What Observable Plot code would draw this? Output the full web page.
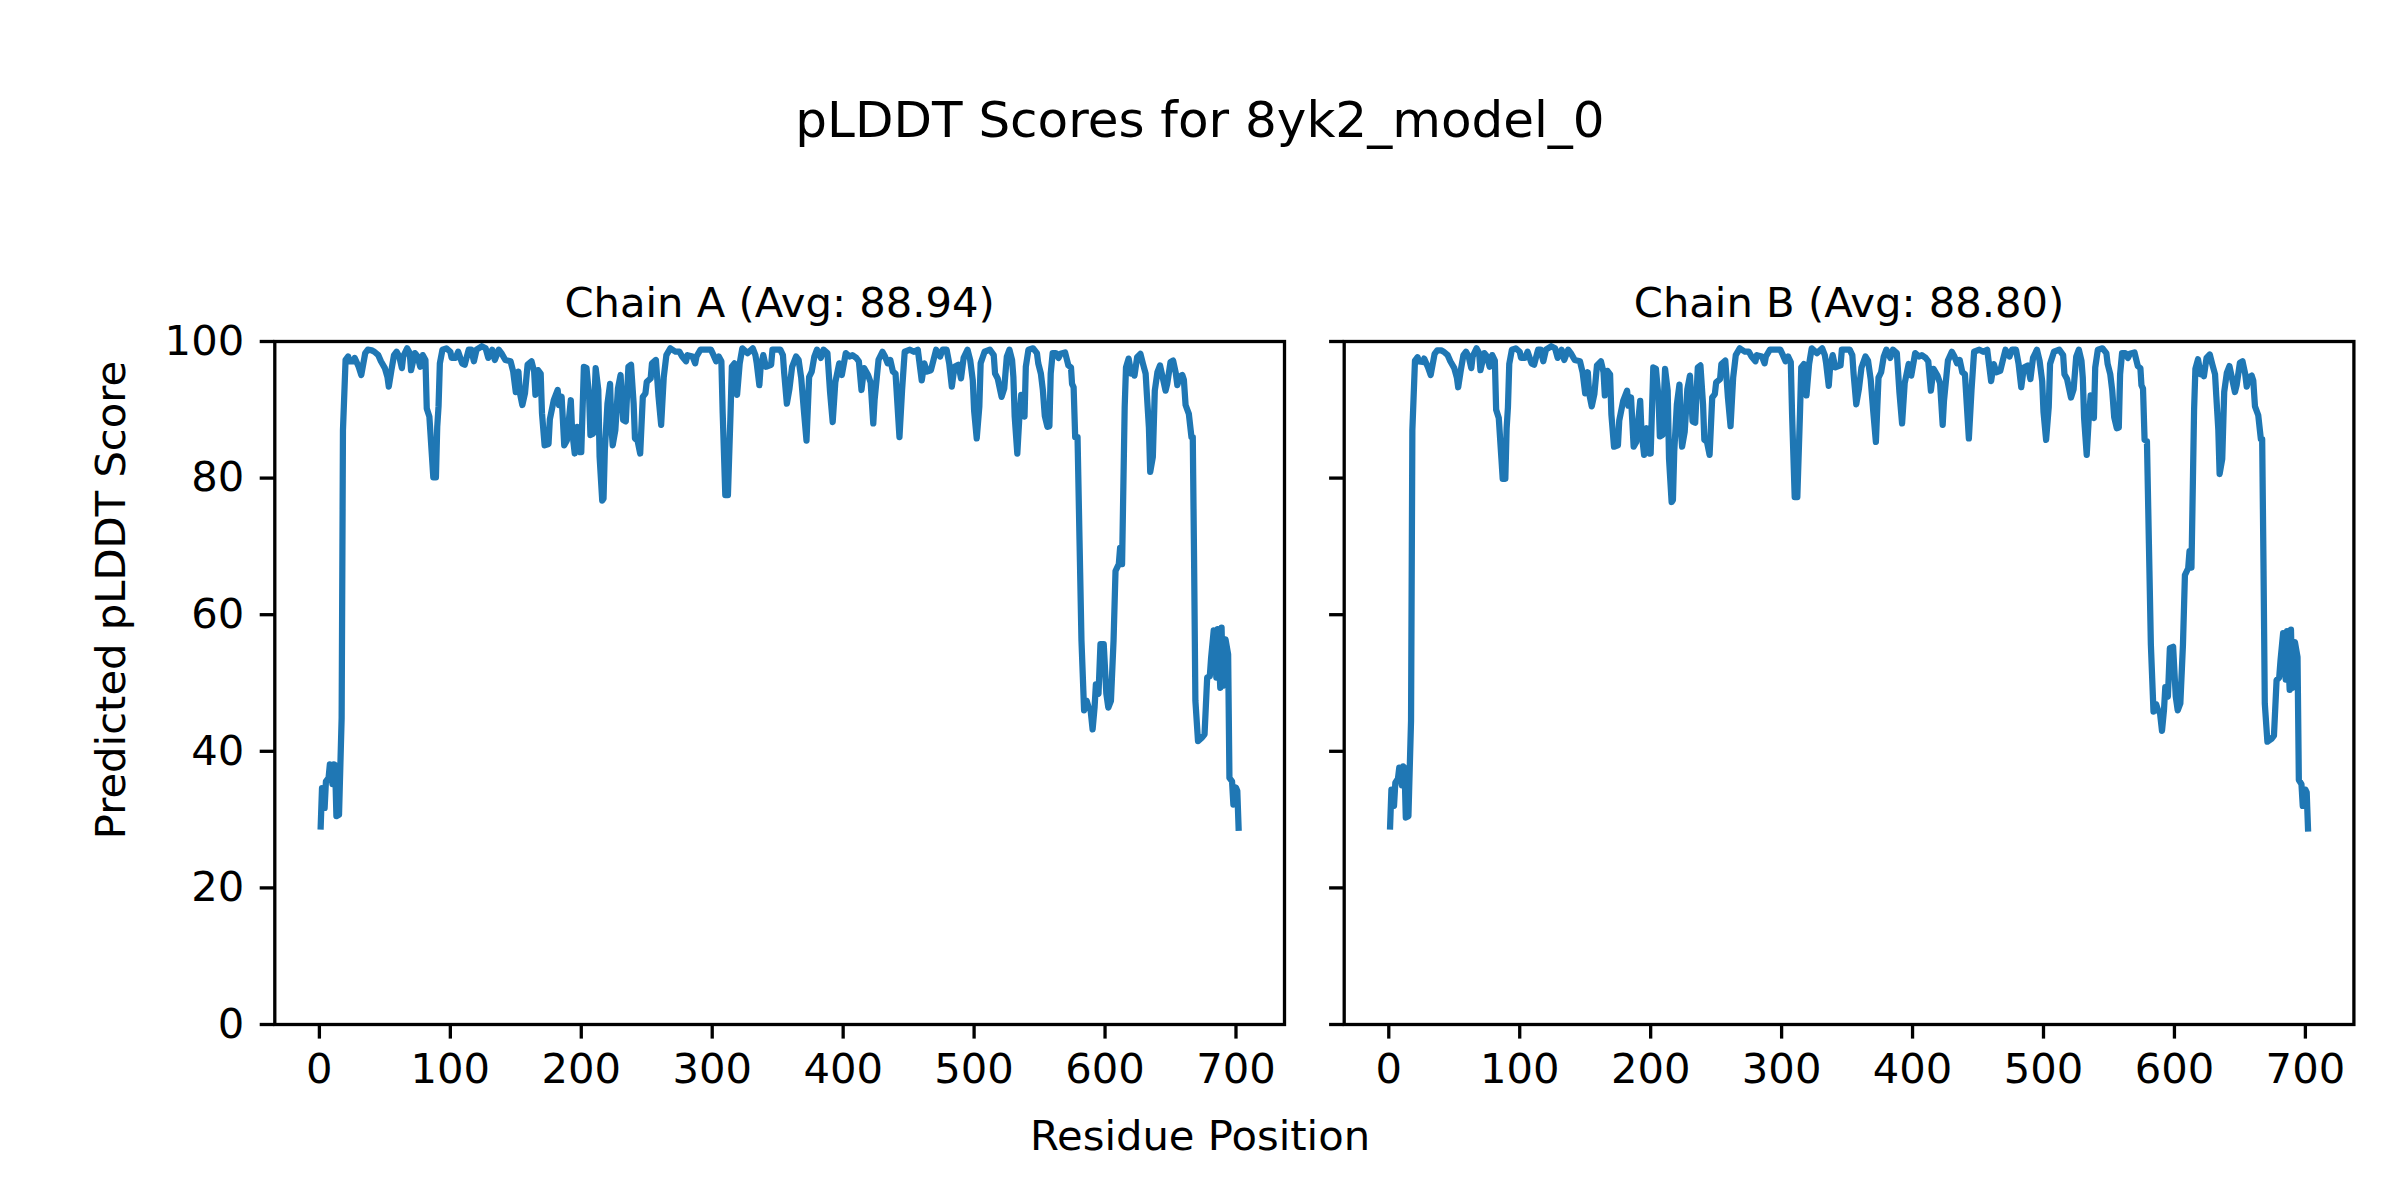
<!DOCTYPE html>
<html><head><meta charset="utf-8">
<script src="https://cdn.jsdelivr.net/npm/d3@7"></script>
<script src="https://cdn.jsdelivr.net/npm/@observablehq/plot@0.6"></script>
<style>
html,body{margin:0;padding:0;background:#fff;}
#fig{position:relative;width:2400px;height:1200px;background:#fff;overflow:hidden;font-family:"DejaVu Sans";}
#fig > svg{position:absolute;top:0;}
</style></head><body><div id="fig"></div>
<script>
const figureTitle = "pLDDT Scores for 8yk2_model_0";
const chainTitles = ["Chain A (Avg: 88.94)", "Chain B (Avg: 88.80)"];
const xLabel = "Residue Position";
const yLabel = "Predicted pLDDT Score";
const xTicks = [0, 100, 200, 300, 400, 500, 600, 700];
const yTicks = [0, 20, 40, 60, 80, 100];

// [residue, pLDDT]
const chainA = [
[1,29],[2,34.6],[3,34.5],[4,31.7],[5,35.6],[7,36.1],[8,38.1],[10,35.2],[11,38.1],[12,38],
[13,30.5],[15,30.7],[17,44.9],[18,87],[20,97.3],[22,97.8],[23,97.1],[26,97.1],[27,97.6],[30,96.3],
[32,95.1],[35,98.3],[37,98.8],[40,98.7],[42,98.5],[45,98],[47,97.1],[50,96.1],[52,94.8],[53,93.4],
[55,95.8],[57,98],[59,98.5],[61,97.8],[63,96.1],[64,97.8],[67,99],[69,98.3],[70,95.8],[73,98.3],
[75,97.8],[77,96.3],[79,98],[81,97.3],[82,90.2],[84,89],[86,83.1],[87,80.1],[89,80.1],[90,87.5],
[91,90.5],[92,96.8],[94,98.8],[97,99],[100,98.5],[101,97.6],[104,97.6],[106,98.5],[109,96.8],[111,96.6],
[114,98.8],[116,98.8],[118,97.1],[120,98.8],[124,99.3],[127,99],[129,97.6],[132,98.8],[134,97.3],[137,98.8],
[139,98.3],[142,97.3],[146,97.1],[148,95.6],[150,92.6],[152,95.6],[153,92.6],[155,90.7],[157,92.4],[159,96.6],
[162,97.1],[164,95.6],[165,92.2],[167,95.8],[169,95.3],[170,89.5],[172,84.8],[175,85],[176,88.6],[179,91.4],
[182,92.9],[183,90.7],[185,91.9],[187,84.8],[189,85.5],[192,91.4],[193,87],[195,83.6],[197,87.5],[199,83.8],
[200,83.8],[202,96.3],[204,96.1],[206,91.9],[207,86.3],[209,86.5],[211,96.1],[213,92.9],[214,83.1],[216,76.7],
[217,77],[218,84.1],[220,90.9],[222,93.8],[223,87.5],[224,84.8],[226,87],[228,93.1],[230,95.1],[232,88.5],
[234,88.3],[236,96.3],[238,96.6],[240,90.9],[241,85.8],[243,85.5],[245,83.6],[247,91.9],[249,92.4],[250,94.1],
[253,94.6],[254,96.8],[257,97.3],[259,91.9],[261,87.8],[263,94.8],[265,98],[268,99],[272,98.5],[275,98.5],
[277,97.8],[280,97.1],[281,98],[285,97.8],[287,96.8],[288,97.8],[291,98.8],[295,98.8],[299,98.8],[301,98],
[303,97.1],[305,97.8],[307,97.1],[308,89.5],[310,77.5],[312,77.5],[314,89.5],[315,96.3],[317,96.8],[319,92.2],
[321,96.8],[323,99],[327,98.3],[331,99],[333,98],[334,96.8],[336,93.6],[337,96.3],[339,98],[341,96.3],
[345,96.6],[346,98.8],[350,98.8],[352,98.8],[354,98],[355,95.3],[357,90.9],[359,93.1],[361,96.3],[364,97.8],
[366,97.3],[368,94.6],[370,89.9],[372,85.5],[374,94.8],[376,95.6],[378,97.8],[380,98.8],[383,97.6],[385,98.8],
[388,98.3],[390,92.6],[392,88.2],[394,94],[397,96.8],[399,95.1],[402,98.3],[405,97.8],[407,98],[410,97.6],
[412,97.1],[414,92.9],[416,96.1],[419,95.1],[421,94],[423,88],[424,91.4],[427,97.3],[430,98.5],[432,97.8],
[434,96.8],[436,97.3],[438,95.6],[440,95.3],[443,86],[445,92.9],[447,98.5],[451,98.8],[454,98.5],[457,98.8],
[460,94.3],[462,96.8],[464,95.6],[467,95.8],[469,97.3],[471,98.8],[474,97.8],[476,98.8],[479,98.8],[481,96.8],
[483,93.4],[485,96.3],[488,96.6],[490,94.6],[492,97.6],[495,98.8],[497,97.3],[499,94.3],[500,89.9],[502,85.8],
[504,90.5],[505,96.8],[508,98.5],[512,98.8],[515,98],[516,95.3],[518,94.6],[521,91.9],[523,93.1],[525,97.8],
[527,98.8],[529,97.3],[530,94.8],[531,89],[533,83.6],[534.5,88.7],[536,92.2],[537,89.9],[538.5,89],[539.5,96.3],
[541.5,98.8],[545,99],[548,98.3],[549,96.8],[551,95.3],[552.5,92.9],[554,89.1],[556,87.5],[557.5,87.6],[558.5,95.3],
[560,98.3],[562.5,98.3],[564.5,97.6],[566,98.2],[569.5,98.4],[572,96.5],[574,96.2],[574.8,93.8],[576,93.3],[577.2,86],
[579,86],[580.5,71],[582,56.2],[584,46],[586,47.4],[587.5,46.4],[589,46],[590.5,43.2],[592,46.4],[593,49.8],
[595,48.4],[596.5,55.7],[599,55.7],[601,48.4],[602.5,46.4],[604.5,47.4],[606.5,56.2],[608,66.4],[610.5,67.4],[611.5,69.8],
[613,67.4],[615,90.4],[616,96.2],[618,97.5],[620,95.3],[621,96.2],[622.5,95],[624.5,97.7],[627,98.2],[629,96.7],
[631,95.3],[632,92.1],[633.5,87.4],[634.5,80.9],[636.5,83.1],[638,92.8],[640,95.5],[642,96.5],[646.2,92.8],[647.5,93.8],
[650,97],[652,97.2],[654,95.4],[655.2,93.6],[657.2,94.9],[659,95.1],[660.2,94.4],[661.5,90.7],[664,89.4],[666,86],
[667,86],[668,68],[669,47.4],[671,41.5],[674,42],[676,42.5],[678,50.8],[680,51],[681,53.7],[683,57.7],
[685,50.8],[686,57.9],[688,49.3],[689,58.1],[690,49.6],[692,56.4],[694,54.2],[695,36.1],[697,35.6],[698,32.2],
[700,34.7],[701,34.2],[702,28.8]
];

const chainB = [
[1,29],[2,34.4],[3,34.2],[4,32],[5,35.4],[7,36],[8,37.6],[10,35],[11,37.8],[12,37.6],
[13,30.3],[15,30.5],[17,44.5],[18,87],[20,97.2],[22,97.7],[23,97.1],[26,97],[27,97.5],[30,96.2],
[32,95.1],[35,98.2],[37,98.7],[40,98.7],[42,98.5],[45,98],[47,97.1],[50,96.1],[52,94.7],[53,93.3],
[55,95.8],[57,98],[59,98.5],[61,97.8],[63,96.1],[64,97.8],[67,99],[69,98.3],[70,95.8],[73,98.3],
[75,97.8],[77,96.3],[79,98],[81,97.2],[82,90],[84,88.8],[86,82.9],[87,79.9],[89,79.9],[90,87.3],
[91,90.4],[92,96.7],[94,98.8],[97,99],[100,98.5],[101,97.6],[104,97.6],[106,98.5],[109,96.8],[111,96.6],
[114,98.8],[116,98.8],[118,97.1],[120,98.8],[124,99.3],[127,99],[129,97.6],[132,98.8],[134,97.3],[137,98.8],
[139,98.3],[142,97.3],[146,97.1],[148,95.5],[150,92.4],[152,95.5],[153,92.4],[155,90.5],[157,92.3],[159,96.5],
[162,97.1],[164,95.5],[165,92.1],[167,95.7],[169,95.2],[170,89.3],[172,84.6],[175,84.8],[176,88.4],[179,91.3],
[182,92.8],[183,90.6],[185,91.8],[187,84.6],[189,85.3],[192,91.3],[193,86.8],[195,83.4],[197,87.3],[199,83.6],
[200,83.6],[202,96.2],[204,96],[206,91.8],[207,86.1],[209,86.3],[211,96],[213,92.8],[214,82.9],[216,76.5],
[217,76.8],[218,83.9],[220,90.8],[222,93.7],[223,87.3],[224,84.6],[226,86.8],[228,93],[230,95],[232,88.3],
[234,88.1],[236,96.2],[238,96.5],[240,90.8],[241,85.6],[243,85.3],[245,83.4],[247,91.8],[249,92.3],[250,94],
[253,94.5],[254,96.7],[257,97.2],[259,91.8],[261,87.6],[263,94.7],[265,98],[268,99],[272,98.5],[275,98.5],
[277,97.8],[280,97.1],[281,98],[285,97.8],[287,96.8],[288,97.8],[291,98.8],[295,98.8],[299,98.8],[301,98],
[303,97.1],[305,97.8],[307,97],[308,89.3],[310,77.2],[312,77.2],[314,89.3],[315,96.2],[317,96.7],[319,92.1],
[321,96.7],[323,99],[327,98.3],[331,99],[333,98],[334,96.8],[336,93.5],[337,96.2],[339,98],[341,96.2],
[345,96.5],[346,98.8],[350,98.8],[352,98.8],[354,98],[355,95.2],[357,90.8],[359,93],[361,96.2],[364,97.8],
[366,97.2],[368,94.5],[370,89.7],[372,85.3],[374,94.7],[376,95.5],[378,97.8],[380,98.8],[383,97.6],[385,98.8],
[388,98.3],[390,92.5],[392,88],[394,93.9],[397,96.7],[399,95],[402,98.3],[405,97.8],[407,98],[410,97.6],
[412,97.1],[414,92.8],[416,96],[419,95],[421,93.9],[423,87.8],[424,91.3],[427,97.2],[430,98.5],[432,97.8],
[434,96.8],[436,97.3],[438,95.5],[440,95.2],[443,85.8],[445,92.8],[447,98.5],[451,98.8],[454,98.5],[457,98.8],
[460,94.2],[462,96.7],[464,95.5],[467,95.7],[469,97.3],[471,98.8],[474,97.8],[476,98.8],[479,98.8],[481,96.7],
[483,93.3],[485,96.2],[488,96.5],[490,94.5],[492,97.6],[495,98.8],[497,97.2],[499,94.2],[500,89.7],[502,85.6],
[504,90.4],[505,96.7],[508,98.5],[512,98.8],[515,98],[516,95.2],[518,94.5],[521,91.8],[523,93],[525,97.8],
[527,98.8],[529,97.2],[530,94.7],[531,88.8],[533,83.4],[534.5,88.5],[536,92.1],[537,89.8],[538.5,88.8],[539.5,96.2],
[541.5,98.8],[545,99],[548,98.3],[549,96.7],[551,95.2],[552.5,92.8],[554,88.9],[556,87.3],[557.5,87.4],[558.5,95.2],
[560,98.3],[562.5,98.3],[564.5,97.6],[566,98.2],[569.5,98.4],[572,96.4],[574,96.1],[574.8,93.6],[576,93.1],[577.2,85.6],
[579,85.4],[580.5,70.4],[582,55.6],[584,45.8],[586,46.9],[587.5,46],[589,45.6],[590.5,43],[592,46],[593,49.4],
[595,48],[596.5,55.1],[599,55.3],[601,48],[602.5,46],[604.5,47],[606.5,55.6],[608,65.8],[610.5,66.8],[611.5,69.3],
[613,66.9],[615,90],[616,96],[618,97.4],[620,95.2],[621,96.1],[622.5,94.9],[624.5,97.6],[627,98.1],[629,96.6],
[631,95.2],[632,91.9],[633.5,87.1],[634.5,80.6],[636.5,82.8],[638,92.6],[640,95.4],[642,96.4],[646.2,92.6],[647.5,93.6],
[650,96.9],[652,97.1],[654,95.3],[655.2,93.4],[657.2,94.8],[659,95],[660.2,94.3],[661.5,90.5],[664,89.2],[666,85.7],
[667,85.7],[668,67.5],[669,47],[671,41.4],[674,41.8],[676,42.3],[678,50.4],[680,50.8],[681,53.3],[683,57.3],
[685,50.5],[686,57.6],[688,49],[689,57.8],[690,49.3],[692,56],[694,53.8],[695,35.8],[697,35.2],[698,32],
[700,34.4],[701,34],[702,28.7]
];

const fig = document.getElementById("fig");

function panel(points, title, showYLabels, left, width, mL, mR) {
  const svg = Plot.plot({
    width, height: 1200,
    marginLeft: mL, marginRight: mR, marginTop: 341, marginBottom: 176,
    x: {domain: [-34.05, 737.05]},
    y: {domain: [0, 100]},
    style: {fontFamily: "DejaVu Sans", fontSize: "41.7px", background: "transparent", color: "black", overflow: "visible"},
    marks: [
      Plot.line(points, {x: d => d[0], y: d => d[1], stroke: "#1f77b4", strokeWidth: 6.25, strokeLinejoin: "round", strokeLinecap: "square"}),
      Plot.frame({stroke: "black", strokeWidth: 3.3}),
      Plot.axisX({ticks: xTicks, tickSize: 14.6, tickPadding: 14.6, strokeWidth: 3.3, fontSize: 41.7, label: null}),
      Plot.axisY({ticks: yTicks, tickSize: 14.6, tickPadding: 16, strokeWidth: 3.3, fontSize: 41.7, label: null,
                  tickFormat: showYLabels ? (d => String(d)) : (() => "")}),
      Plot.text([title], {frameAnchor: "top", dy: -25, lineAnchor: "bottom", fontSize: 41.7, fill: "black", text: d => d})
    ]
  });
  svg.style.left = left + "px";
  return svg;
}

fig.appendChild(panel(chainA, chainTitles[0], true, 0, 1300, 274.3, 16));
fig.appendChild(panel(chainB, chainTitles[1], false, 1300, 1100, 43.7, 46.6));

const ns = "http://www.w3.org/2000/svg";
const over = document.createElementNS(ns, "svg");
over.setAttribute("width", 2400);
over.setAttribute("height", 1200);
over.style.left = "0px";
over.style.pointerEvents = "none";
function addText(str, x, y, size, rotate) {
  const t = document.createElementNS(ns, "text");
  t.setAttribute("text-anchor", "middle");
  t.setAttribute("font-family", "DejaVu Sans");
  t.setAttribute("font-size", size);
  t.setAttribute("fill", "black");
  t.setAttribute("transform", `translate(${x},${y})` + (rotate ? ` rotate(${rotate})` : ""));
  t.textContent = str;
  over.appendChild(t);
}
addText(figureTitle, 1200, 137, 50, 0);
addText(xLabel, 1200, 1150, 41.7, 0);
addText(yLabel, 125, 600, 41.7, -90);
fig.appendChild(over);
</script></body></html>
